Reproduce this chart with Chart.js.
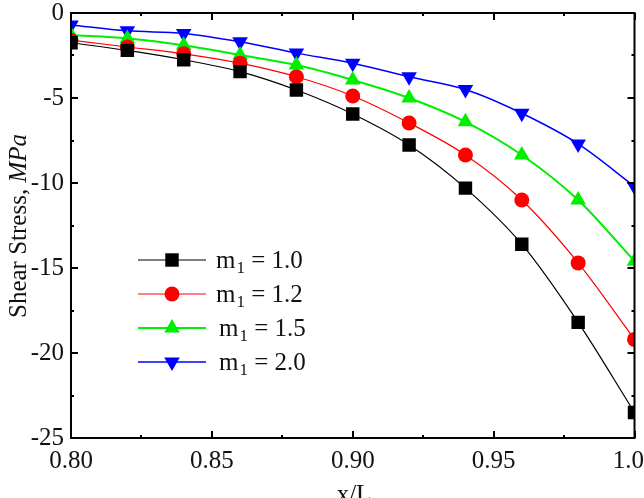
<!DOCTYPE html>
<html>
<head>
<meta charset="utf-8">
<script src="https://cdn.jsdelivr.net/npm/chart.js@4"></script>
<style>
  html, body { margin: 0; padding: 0; background: #fff; }
  canvas { display: block; }
</style>
</head>
<body>
<canvas id="chart" width="644" height="498"></canvas>
<script>
// data
const xValues = [0.80, 0.82, 0.84, 0.86, 0.88, 0.90, 0.92, 0.94, 0.96, 0.98, 1.00];
const m10 = [-1.75, -2.2, -2.75, -3.45, -4.53, -5.94, -7.76, -10.3, -13.6, -18.2, -23.5];
const m12 = [-1.6, -2.0, -2.4, -2.95, -3.75, -4.88, -6.47, -8.35, -11.0, -14.7, -19.2];
const m15 = [-1.3, -1.5, -1.9, -2.47, -3.06, -3.94, -5.0, -6.4, -8.35, -11.0, -14.6];
const m20 = [-0.7, -1.05, -1.2, -1.69, -2.36, -2.95, -3.75, -4.5, -5.9, -7.7, -10.2];
const seriesLabels = ['1.0', '1.2', '1.5', '2.0'];

const FONT = '"Liberation Serif", "Times New Roman", serif';

function toPoints(ys) {
    return xValues.map((x, i) => ({ x: x, y: ys[i] }));
}

const styles = [
    { color: '#000000', width: 1.2, pointStyle: 'rect', radius: 9.5, rotation: 0 },
    { color: '#ff0000', width: 1.2, pointStyle: 'circle', radius: 7.5, rotation: 0 },
    { color: '#00ee00', width: 2, pointStyle: 'triangle', radius: 9, rotation: 0 },
    { color: '#0000ff', width: 1.5, pointStyle: 'triangle', radius: 9, rotation: 180 }
];

const datasets = [m10, m12, m15, m20].map((ys, i) => ({
    label: 'm1 = ' + seriesLabels[i],
    data: toPoints(ys),
    borderColor: styles[i].color,
    backgroundColor: styles[i].color,
    borderWidth: styles[i].width,
    pointStyle: styles[i].pointStyle,
    pointRadius: styles[i].radius,
    pointRotation: styles[i].rotation,
    pointBorderWidth: 0,
    cubicInterpolationMode: 'monotone'
}));

// frame, inward ticks, axis titles and custom legend
const decorPlugin = {
    id: 'decor',
    afterDatasetsDraw(chart) {
        const ctx = chart.ctx;
        const a = chart.chartArea;
        const xs = chart.scales.x;
        const ys = chart.scales.y;
        ctx.save();

        // ticks
        ctx.strokeStyle = '#000';
        ctx.lineWidth = 2;
        const major = 7, minor = 3;
        for (let v = 0.80; v <= 1.0001; v += 0.025) {
            const px = Math.round(xs.getPixelForValue(v));
            const isMajor = Math.round(v * 1000) % 50 === 0;
            const len = isMajor ? major : minor;
            ctx.beginPath();
            ctx.moveTo(px, a.bottom); ctx.lineTo(px, a.bottom - len);
            ctx.moveTo(px, a.top); ctx.lineTo(px, a.top + len);
            ctx.stroke();
        }
        for (let v = -25; v <= 0; v += 2.5) {
            const py = Math.round(ys.getPixelForValue(v));
            const isMajor = v % 5 === 0;
            const len = isMajor ? major : minor;
            ctx.beginPath();
            ctx.moveTo(a.left, py); ctx.lineTo(a.left + len, py);
            ctx.moveTo(a.right, py); ctx.lineTo(a.right - len, py);
            ctx.stroke();
        }

        // frame
        ctx.lineWidth = 2;
        ctx.strokeRect(a.left, a.top, a.right - a.left, a.bottom - a.top);

        // legend
        const lx = 138, lw = 68;
        const rows = [260, 294, 328, 362];
        datasets.forEach((ds, i) => {
            const y = rows[i];
            ctx.strokeStyle = ds.borderColor;
            ctx.lineWidth = ds.borderWidth;
            ctx.beginPath();
            ctx.moveTo(lx, y); ctx.lineTo(lx + lw, y);
            ctx.stroke();
            ctx.fillStyle = ds.backgroundColor;
            Chart.helpers.drawPoint(ctx, {
                pointStyle: ds.pointStyle,
                radius: ds.pointRadius,
                rotation: ds.pointRotation,
                borderWidth: 0
            }, lx + lw / 2, y);

            const tx = i < 2 ? 216 : 219;
            ctx.fillStyle = '#111';
            ctx.textBaseline = 'alphabetic';
            ctx.textAlign = 'left';
            ctx.font = '25px ' + FONT;
            ctx.fillText('m', tx, y + 8);
            let w = ctx.measureText('m').width;
            ctx.font = '17px ' + FONT;
            ctx.fillText('1', tx + w + 1, y + 13);
            w += ctx.measureText('1').width + 1;
            ctx.font = '25px ' + FONT;
            ctx.fillText(' = ' + seriesLabels[i], tx + w, y + 8);
        });

        // y title
        ctx.save();
        ctx.translate(26, 226);
        ctx.rotate(-Math.PI / 2);
        ctx.fillStyle = '#111';
        ctx.font = '25px ' + FONT;
        const t1 = 'Shear Stress, ';
        const t2 = 'MPa';
        const w1 = ctx.measureText(t1).width;
        ctx.font = 'italic 25px ' + FONT;
        const w2 = ctx.measureText(t2).width;
        const start = -(w1 + w2) / 2;
        ctx.font = '25px ' + FONT;
        ctx.textAlign = 'left';
        ctx.fillText(t1, start, 0);
        ctx.font = 'italic 25px ' + FONT;
        ctx.fillText(t2, start + w1, 0);
        ctx.restore();

        // x title
        ctx.font = '25px ' + FONT;
        ctx.fillStyle = '#111';
        ctx.textAlign = 'center';
        ctx.textBaseline = 'alphabetic';
        ctx.fillText('x/L', 354, 502);

        ctx.restore();
    }
};

new Chart(document.getElementById('chart'), {
    type: 'line',
    data: { datasets: datasets },
    options: {
        responsive: false,
        animation: false,
        devicePixelRatio: 1,
        layout: { padding: { top: 13, right: 2, left: 0, bottom: 0 } },
        plugins: {
            legend: { display: false },
            tooltip: { enabled: false }
        },
        scales: {
            x: {
                type: 'linear',
                min: 0.8,
                max: 1.0,
                grid: { display: false, drawTicks: false },
                border: { display: false },
                ticks: {
                    stepSize: 0.05,
                    padding: 8,
                    maxRotation: 0,
                    color: '#111',
                    font: { family: FONT, size: 25 },
                    callback: (v) => Number(v).toFixed(2)
                },
                afterFit(scale) {
                    scale.height = 60;
                    scale.paddingLeft = 0;
                    scale.paddingRight = 0;
                }
            },
            y: {
                min: -25,
                max: 0,
                grid: { display: false, drawTicks: false },
                border: { display: false },
                ticks: {
                    stepSize: 5,
                    padding: 7,
                    color: '#111',
                    font: { family: FONT, size: 25 }
                },
                afterFit(scale) {
                    scale.width = 71;
                    scale.paddingTop = 0;
                    scale.paddingBottom = 0;
                }
            }
        }
    },
    plugins: [decorPlugin]
});
</script>
</body>
</html>
